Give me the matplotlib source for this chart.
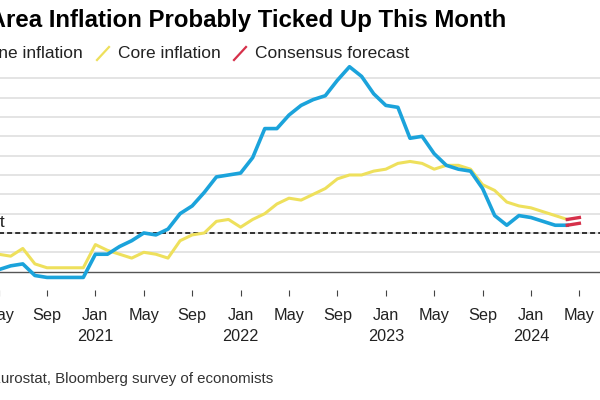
import numpy as np
import matplotlib
matplotlib.use('Agg')
import matplotlib.pyplot as plt
from matplotlib.lines import Line2D

plt.rcParams['font.family'] = ['Liberation Sans', 'DejaVu Sans']

# Monthly data, Jan 2020 - Apr 2024 (% y/y)
headline = [1.4, 1.2, 0.7, 0.3, 0.1, 0.3, 0.4, -0.2, -0.3, -0.3, -0.3, -0.3,
            0.9, 0.9, 1.3, 1.6, 2.0, 1.9, 2.2, 3.0, 3.4, 4.1, 4.9, 5.0,
            5.1, 5.9, 7.4, 7.4, 8.1, 8.6, 8.9, 9.1, 9.9, 10.6, 10.1, 9.2,
            8.6, 8.5, 6.9, 7.0, 6.1, 5.5, 5.3, 5.2, 4.3, 2.9, 2.4, 2.9,
            2.8, 2.6, 2.4, 2.4]
core = [1.1, 1.2, 1.0, 0.9, 0.9, 0.8, 1.2, 0.4, 0.2, 0.2, 0.2, 0.2,
        1.4, 1.1, 0.9, 0.7, 1.0, 0.9, 0.7, 1.6, 1.9, 2.0, 2.6, 2.7,
        2.3, 2.7, 3.0, 3.5, 3.8, 3.7, 4.0, 4.3, 4.8, 5.0, 5.0, 5.2,
        5.3, 5.6, 5.7, 5.6, 5.3, 5.5, 5.5, 5.3, 4.5, 4.2, 3.6, 3.4,
        3.3, 3.1, 2.9, 2.7]
# consensus for May 2024, drawn from the April value
forecast_headline = [2.4, 2.5]
forecast_core = [2.7, 2.8]
ecb_target = 2.0

tick_months = list(range(4, 53, 4))  # months since Jan 2020
tick_labels = ['May', 'Sep', 'Jan\n2021', 'May', 'Sep', 'Jan\n2022', 'May', 'Sep',
               'Jan\n2023', 'May', 'Sep', 'Jan\n2024', 'May']

blue = '#1BA3DB'
yellow = '#EEE05C'
red = '#D6304A'

x = np.arange(len(headline))
xf = [len(headline) - 1, len(headline)]

fig = plt.figure(figsize=(6, 4), dpi=100)
W, H = 600, 400
# axes runs past the left/right edges (reference is a crop)
ax = fig.add_axes([-40 / W, 110 / H, 650 / W, 231 / H])

for g in range(1, 11):
    ax.axhline(g, color='#E2E2E2', lw=1.3, zorder=0)
ax.axhline(0, color='#555555', lw=1.0, zorder=1)
ax.axhline(ecb_target, color='black', lw=1.1, ls=(0, (3.3, 2)), zorder=2)

ax.plot(x, core, color=yellow, lw=2.2, zorder=3, solid_joinstyle='round')
ax.plot(x, headline, color=blue, lw=2.6, zorder=4, solid_joinstyle='round')
ax.plot(xf, forecast_core, color=red, lw=2.4, zorder=5)
ax.plot(xf, forecast_headline, color=red, lw=2.4, zorder=5)

ax.set_xlim(0.81, 54.53)
ax.set_ylim(-0.95, 11)
ax.set_yticks([])
ax.set_xticks(tick_months)
ax.set_xticklabels(tick_labels, fontsize=11.7, color='#222222', linespacing=1.5)
ax.tick_params(axis='x', direction='out', length=4.3, width=0.8, color='#444444', pad=9)
for s in ax.spines.values():
    s.set_visible(False)

fig.text(5 / W, 1 - 222 / H, 'ECB target', ha='right', va='center', fontsize=12.5, color='#222222')

# title, legend, source
fig.text(506 / W, 1 - 20 / H, 'Euro-Area Inflation Probably Ticked Up This Month',
         ha='right', va='center', fontsize=17.3, fontweight='bold', color='black')

ly = 1 - 53 / H
fig.text(83 / W, ly, 'Headline inflation', ha='right', va='center', fontsize=12.5, color='#222222')
fig.text(118 / W, ly, 'Core inflation', ha='left', va='center', fontsize=12.5, color='#222222')
fig.text(255 / W, ly, 'Consensus forecast', ha='left', va='center', fontsize=12.5, color='#222222')
for x0, c in [(-75, blue), (97, yellow), (234, red)]:
    fig.add_artist(Line2D([x0 / W, (x0 + 12) / W], [1 - 60 / H, 1 - 47 / H],
                          color=c, lw=1.6, transform=fig.transFigure))

fig.text(273 / W, 1 - 379 / H, 'Source: Eurostat, Bloomberg survey of economists',
         ha='right', va='center', fontsize=10.8, color='#333333')

fig.savefig('out.png', dpi=100)
